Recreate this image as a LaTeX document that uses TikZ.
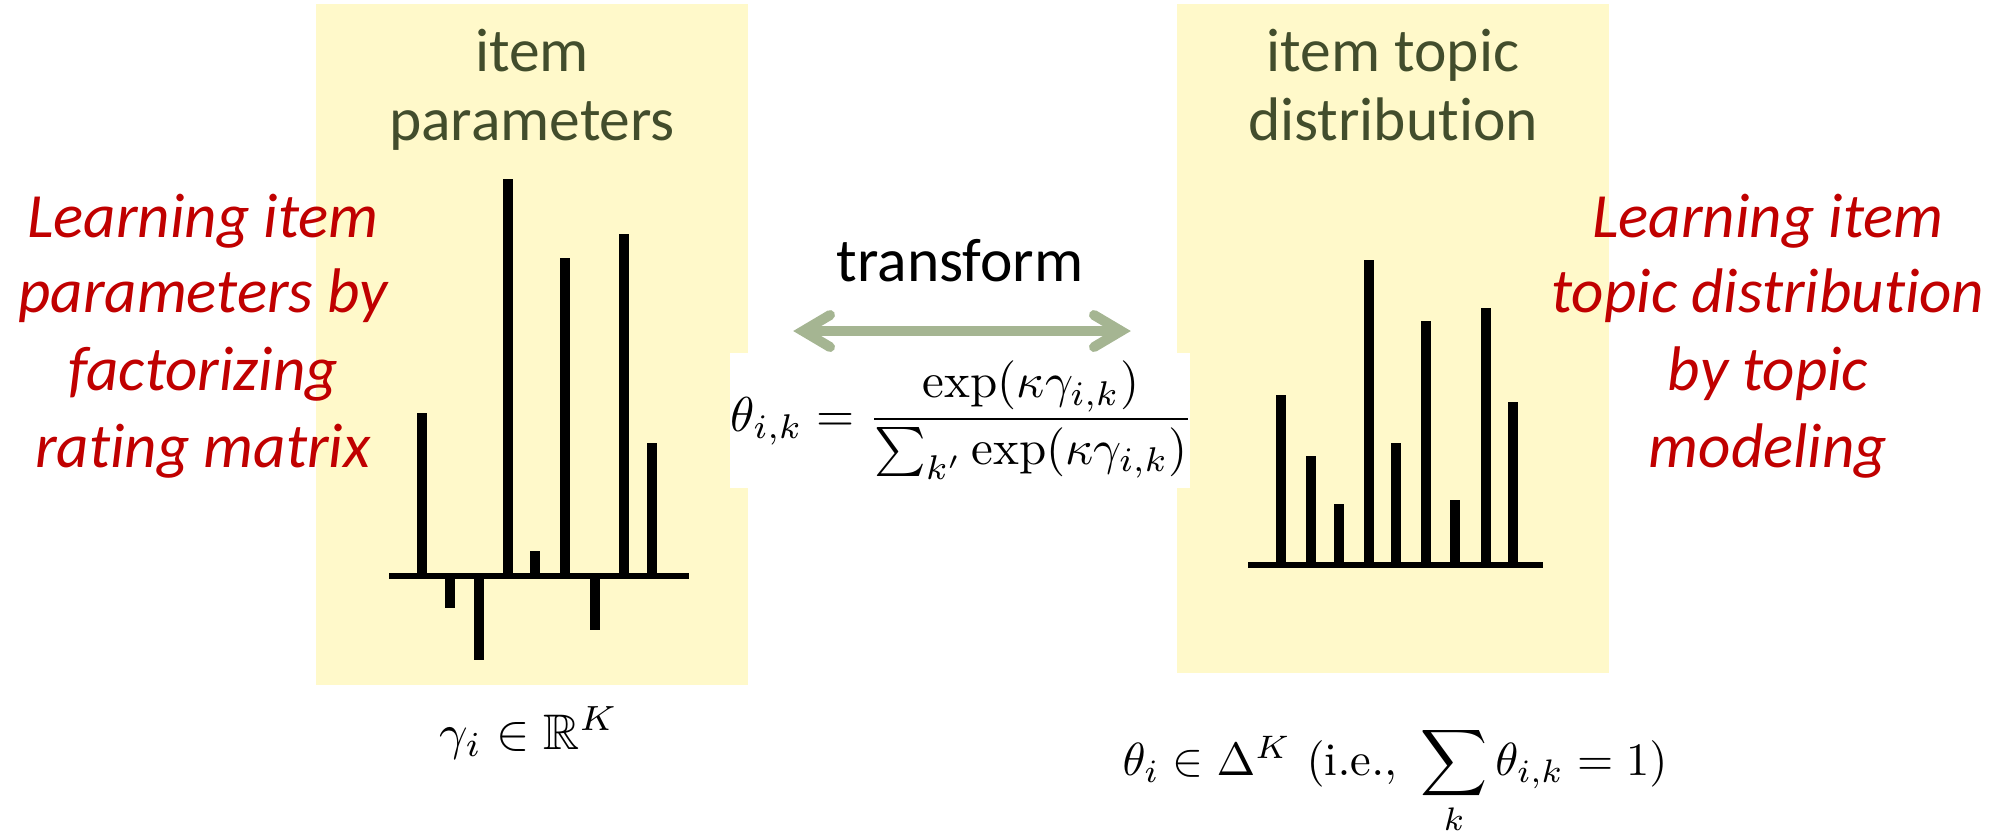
\documentclass[tikz,border=0pt]{standalone}
\usepackage{amssymb}
\usepackage{fontspec}
\newfontfamily\carl[Ligatures={NoCommon}]{Carlito}
\definecolor{panelyellow}{RGB}{255,249,202}
\definecolor{titlegreen}{RGB}{66,77,44}
\definecolor{darkred}{RGB}{192,0,0}
\definecolor{sage}{RGB}{165,181,146}
\tikzset{
  panel/.style={fill=panelyellow, draw=none},
  titletxt/.style={font=\carl\fontsize{12.3}{14}\selectfont, text=titlegreen, anchor=base, inner sep=0pt},
  blacktxt/.style={font=\carl\fontsize{12.3}{14}\selectfont, text=black, anchor=base, inner sep=0pt},
  redtxt/.style={font=\carl\itshape\fontsize{12.6}{15}\selectfont, text=darkred, anchor=base, inner sep=0pt},
  barline/.style={line width=2pt, line cap=butt},
  axisline/.style={line width=1.1pt},
  arrowline/.style={draw=sage, line width=2pt},
  mathtxt/.style={anchor=base, inner sep=0pt},
}
\begin{document}
\begin{tikzpicture}[x=0.2pt,y=-0.2pt]
\useasboundingbox (0,0) rectangle (1998,832);
% panels
\fill[panel] (316,4) rectangle (748,685);
\fill[panel] (1177,4) rectangle (1609,673);
% white box behind formula
\fill[white] (730,353) rectangle (1190,488);
% titles
\node[titletxt] (lt1) at (532,71) {item};
\node[titletxt] (lt2) at (532,140) {parameters};
\node[titletxt] (rt1) at (1393,71) {item topic};
\node[titletxt] (rt2) at (1393,140) {distribution};
% left bar chart
\coordinate (laxL) at (389,576);
\coordinate (laxR) at (689,576);
\foreach \x/\y in {422/413,450/608,479/660,508/179,535/551,565/258,595/630,624/234,652/443}
  \draw[barline] (\x,576) -- (\x,\y);
\draw[axisline] (laxL) -- (laxR);
% right bar chart
\coordinate (raxL) at (1248,565);
\coordinate (raxR) at (1543,565);
\foreach \x/\y in {1281/395,1311/456,1339/504,1369/260,1396/443,1426/321,1455/500,1486/308,1513/402}
  \draw[barline] (\x,565) -- (\x,\y);
\draw[axisline] (raxL) -- (raxR);
% transform arrow
\node[blacktxt] (tr) at (960,281) {transform};
\coordinate (arrL) at (803,331);
\coordinate (arrR) at (1121,331);
\draw[arrowline] (arrL) -- (arrR);
\draw[arrowline, line cap=round, line join=miter] (arrL) ++(27,-16) -- (arrL) -- ++(27,16);
\draw[arrowline, line cap=round, line join=miter] (arrR) ++(-27,-16) -- (arrR) -- ++(-27,16);
% formula
\node[mathtxt, scale=0.98] (f) at (962,431) {$\displaystyle \theta_{i,k} = \frac{\exp(\kappa\gamma_{i,k})}{\sum_{k'}\exp(\kappa\gamma_{i,k})}$};
% red texts
\node[redtxt] (l1) at (203,237) {Learning item};
\node[redtxt] (l2) at (203,312) {parameters by};
\node[redtxt] (l3) at (203,390) {factorizing};
\node[redtxt] (l4) at (203,467) {rating matrix};
\node[redtxt] (r1) at (1768,237) {Learning item};
\node[redtxt] (r2) at (1768,312) {topic distribution};
\node[redtxt] (r3) at (1768,390) {by topic};
\node[redtxt] (r4) at (1768,467) {modeling};
% bottom formulas
\node[mathtxt] (g) at (529,749) {$\gamma_i \in \mathbb{R}^K$};
\node[mathtxt, scale=0.93] (th) at (1395,775) {$\theta_i \in \Delta^K\ (\mathrm{i.e.,}\ \displaystyle\sum_k \theta_{i,k} = 1)$};
\end{tikzpicture}
\end{document}
